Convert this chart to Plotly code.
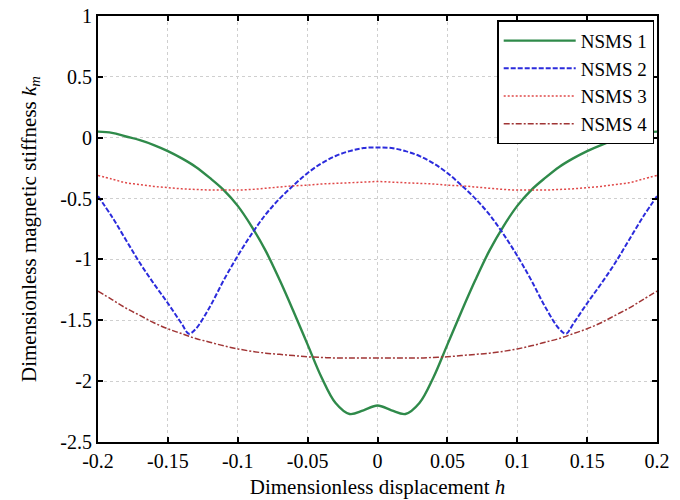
import plotly.graph_objects as go

x_h = [-0.20, -0.19, -0.18, -0.17, -0.16, -0.15, -0.14, -0.13, -0.12, -0.11, -0.10,
       -0.09, -0.08, -0.07, -0.06, -0.05, -0.04, -0.03, -0.02, -0.01, 0.00,
       0.01, 0.02, 0.03, 0.04, 0.05, 0.06, 0.07, 0.08, 0.09, 0.10,
       0.11, 0.12, 0.13, 0.14, 0.15, 0.16, 0.17, 0.18, 0.19, 0.20]

nsms1 = [0.05, 0.04, 0.01, -0.02, -0.06, -0.11, -0.17, -0.24, -0.33, -0.43, -0.56,
         -0.73, -0.93, -1.17, -1.43, -1.70, -1.97, -2.18, -2.27, -2.24, -2.20,
         -2.24, -2.27, -2.18, -1.97, -1.70, -1.43, -1.17, -0.93, -0.73, -0.56,
         -0.43, -0.33, -0.24, -0.17, -0.11, -0.06, -0.02, 0.01, 0.04, 0.05]

x_h2 = [-0.20, -0.19, -0.18, -0.17, -0.16, -0.15, -0.14, -0.135, -0.13, -0.12, -0.11, -0.10,
        -0.09, -0.08, -0.07, -0.06, -0.05, -0.04, -0.03, -0.02, -0.01, 0.00,
        0.01, 0.02, 0.03, 0.04, 0.05, 0.06, 0.07, 0.08, 0.09, 0.10,
        0.11, 0.12, 0.13, 0.135, 0.14, 0.15, 0.16, 0.17, 0.18, 0.19, 0.20]

nsms2 = [-0.48, -0.65, -0.84, -1.03, -1.20, -1.36, -1.53, -1.61, -1.57, -1.39, -1.17, -0.97,
         -0.79, -0.63, -0.50, -0.39, -0.29, -0.21, -0.15, -0.11, -0.085, -0.08,
         -0.085, -0.11, -0.15, -0.21, -0.29, -0.39, -0.50, -0.63, -0.79, -0.97,
         -1.17, -1.39, -1.57, -1.61, -1.53, -1.36, -1.20, -1.03, -0.84, -0.65, -0.48]

nsms3 = [-0.31, -0.34, -0.37, -0.385, -0.40, -0.41, -0.42, -0.425, -0.43, -0.43, -0.43,
         -0.425, -0.415, -0.405, -0.395, -0.39, -0.38, -0.375, -0.37, -0.365, -0.36,
         -0.365, -0.37, -0.375, -0.38, -0.39, -0.395, -0.405, -0.415, -0.425, -0.43,
         -0.43, -0.43, -0.425, -0.42, -0.41, -0.40, -0.385, -0.37, -0.34, -0.31]

nsms4 = [-1.26, -1.33, -1.40, -1.46, -1.52, -1.57, -1.61, -1.65, -1.68, -1.71, -1.735,
         -1.755, -1.77, -1.78, -1.79, -1.80, -1.805, -1.81, -1.81, -1.81, -1.81,
         -1.81, -1.81, -1.81, -1.805, -1.80, -1.79, -1.78, -1.77, -1.755, -1.735,
         -1.71, -1.68, -1.65, -1.61, -1.57, -1.52, -1.46, -1.40, -1.33, -1.26]

x_ticks = [-0.2, -0.15, -0.1, -0.05, 0, 0.05, 0.1, 0.15, 0.2]
x_tick_labels = ["-0.2", "-0.15", "-0.1", "-0.05", "0", "0.05", "0.1", "0.15", "0.2"]
y_ticks = [1, 0.5, 0, -0.5, -1, -1.5, -2, -2.5]
y_tick_labels = ["1", "0.5", "0", "-0.5", "-1", "-1.5", "-2", "-2.5"]

FONT = "Liberation Serif"

fig = go.Figure()
fig.add_trace(go.Scatter(x=x_h, y=nsms1, name="NSMS 1", mode="lines", line_shape="spline",
                         line=dict(color="#2f8a4a", width=2.4)))
fig.add_trace(go.Scatter(x=x_h2, y=nsms2, name="NSMS 2", mode="lines", line_shape="spline",
                         line=dict(color="#2b2bdc", width=2, dash="5px,2px")))
fig.add_trace(go.Scatter(x=x_h, y=nsms3, name="NSMS 3", mode="lines", line_shape="spline",
                         line=dict(color="#e04848", width=1.5, dash="2px,2px")))
fig.add_trace(go.Scatter(x=x_h, y=nsms4, name="NSMS 4", mode="lines", line_shape="spline",
                         line=dict(color="#a03535", width=1.5, dash="6px,2px,2px,2px")))

axis_common = dict(
    showline=True, linecolor="black", linewidth=2, mirror="ticks",
    ticks="inside", ticklen=5, tickwidth=1.5, tickcolor="black",
    showgrid=True, gridcolor="#cfcfcf", griddash="dot", gridwidth=1,
    zeroline=False, automargin=False, ticklabeloverflow="allow",
    tickfont=dict(family=FONT, size=20, color="black"),
)

fig.update_xaxes(range=[-0.2, 0.2], tickmode="array", tickvals=x_ticks, ticktext=x_tick_labels,
                 title=dict(text="Dimensionless displacement <i>h</i>",
                            font=dict(family=FONT, size=21, color="black"), standoff=8),
                 **axis_common)
fig.update_yaxes(range=[-2.5, 1], tickmode="array", tickvals=y_ticks, ticktext=y_tick_labels,
                 title=dict(text="Dimensionless magnetic stiffness <i>k</i><sub><i>m</i></sub>",
                            font=dict(family=FONT, size=21, color="black"), standoff=18),
                 **axis_common)

fig.update_layout(
    width=680, height=500,
    margin=dict(l=90, r=31, t=8, b=66),
    paper_bgcolor="white", plot_bgcolor="white",
    font=dict(family=FONT, color="black"),
    legend=dict(x=0.995, y=0.99, xanchor="right", yanchor="top",
                bgcolor="white", bordercolor="black", borderwidth=1.5,
                font=dict(family=FONT, size=19, color="black"),
                itemwidth=72, tracegroupgap=0),
    showlegend=True,
)

fig.write_html("out.html")
